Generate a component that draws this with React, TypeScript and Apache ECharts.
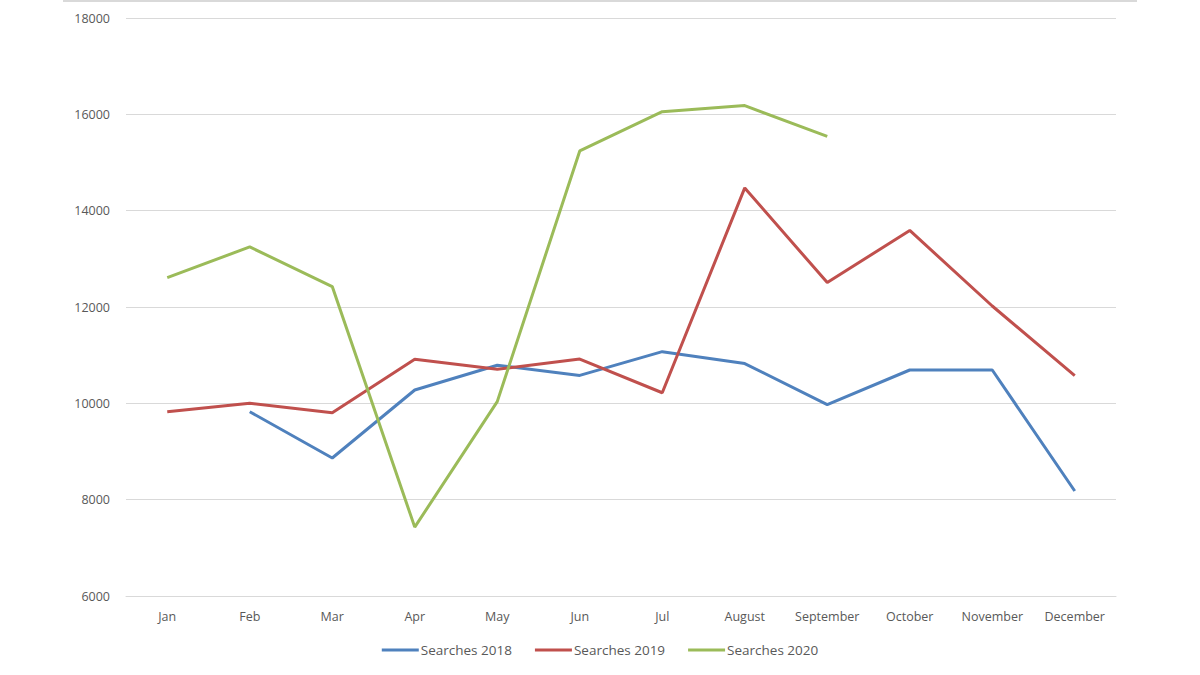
import React, { useEffect, useRef } from "react";
import * as echarts from "echarts";

const months = ["Jan", "Feb", "Mar", "Apr", "May", "Jun", "Jul", "August", "September", "October", "November", "December"];
const searches2018 = [null, 9826, 8865, 10277, 10790, 10580, 11073, 10825, 9973, 10692, 10692, 8180];
const searches2019 = [9826, 10000, 9806, 10915, 10707, 10920, 10220, 14472, 12507, 13590, 12021, 10574];
const searches2020 = [12611, 13247, 12424, 7430, 10035, 15240, 16056, 16181, 15543, null, null, null];
const yTicks = { min: 6000, max: 18000, interval: 2000 };

const FONT = "'Open Sans', 'Noto Sans', sans-serif";
const TEXT = "#595959";

export default function App() {
  const ref = useRef<HTMLDivElement>(null);
  useEffect(() => {
    document.body.style.margin = "0";
    const chart = echarts.init(ref.current!, null, { renderer: "svg" });
    const mk = (name: string, data: (number | null)[], color: string) => ({
      name,
      type: "line",
      data,
      showSymbol: false,
      symbol: "none",
      connectNulls: false,
      lineStyle: { color, width: 3 },
      itemStyle: { color },
    });
    chart.setOption({
      animation: false,
      backgroundColor: "#ffffff",
      textStyle: { fontFamily: FONT },
      graphic: [
        {
          type: "line",
          shape: { x1: 63, y1: 1, x2: 1137, y2: 1 },
          style: { stroke: "#d9d9d9", lineWidth: 2 },
        },
      ],
      grid: { left: 126, right: 84, top: 18, bottom: 79, containLabel: false },
      xAxis: {
        type: "category",
        data: months,
        boundaryGap: true,
        axisLine: { show: true, lineStyle: { color: "#d9d9d9", width: 1 } },
        axisTick: { show: false },
        axisLabel: { color: TEXT, fontSize: 12.5, margin: 14, fontFamily: FONT, interval: 0 },
      },
      yAxis: {
        type: "value",
        min: yTicks.min,
        max: yTicks.max,
        interval: yTicks.interval,
        axisLine: { show: false },
        axisTick: { show: false },
        axisLabel: { color: TEXT, fontSize: 12.5, margin: 16, fontFamily: FONT, formatter: (v: number) => String(v) },
        splitLine: { lineStyle: { color: "#d9d9d9", width: 1 } },
      },
      legend: {
        bottom: 13,
        left: "center",
        icon: "rect",
        itemWidth: 37,
        itemHeight: 3,
        itemGap: 23,
        textStyle: { color: TEXT, fontSize: 13.5, fontFamily: FONT, padding: [0, 0, 0, -3] },
        data: ["Searches 2018", "Searches 2019", "Searches 2020"],
      },
      series: [
        mk("Searches 2018", searches2018, "#4F81BD"),
        mk("Searches 2019", searches2019, "#C0504D"),
        mk("Searches 2020", searches2020, "#9BBB59"),
      ],
    });
    return () => chart.dispose();
  }, []);
  return <div ref={ref} style={{ width: 1200, height: 675 }} />;
}
